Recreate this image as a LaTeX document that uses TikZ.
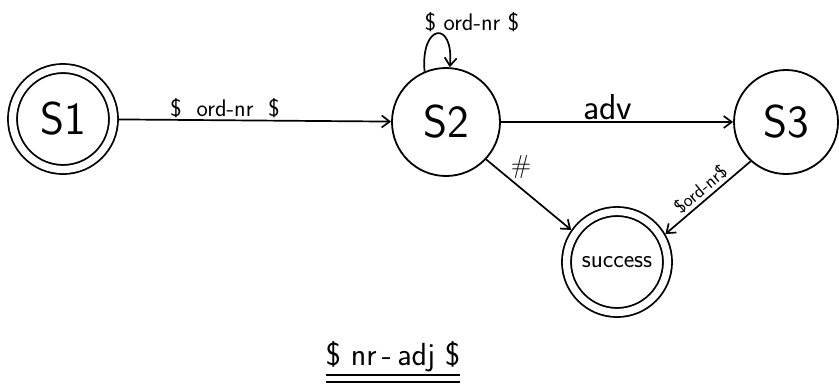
\documentclass[tikz,border=0pt]{standalone}
\usetikzlibrary{arrows.meta}
\begin{document}
\begin{tikzpicture}[
    x=1pt, y=1pt,
    >={Straight Barb[length=8pt,width=12pt]}, font=\sffamily,
    stbox/.style={draw, circle, line width=1.8pt, inner sep=0pt,
      font=\sffamily\fontsize{46}{48}\selectfont},
    accbox/.style={stbox, double, double distance=7.2pt, outer sep=5.4pt,
      minimum size=101pt},
    arr/.style={->, line width=1.7pt},
    lbl/.style={font=\sffamily\fontsize{24}{26}\selectfont, inner sep=2pt},
  ]
  \useasboundingbox (0,0) rectangle (839,384);

  % states
  \node[accbox] (s1) at (63,265) {S1};
  \node[stbox, minimum size=108pt] (s2) at (446,262) {S2};
  \node[stbox, minimum size=104pt] (s3) at (786,262) {S3};
  \node[accbox, font=\sffamily\fontsize{25}{27}\selectfont] (succ) at (617,122) {success};

  % transitions
  \draw[arr] (s1) -- node[lbl, pos=0.39, above] {\$\ \ ord-nr\ \ \$} (s2);
  \draw[arr] (s2) -- node[lbl, font=\sffamily\fontsize{36}{38}\selectfont, pos=0.46, above, inner sep=1pt] {adv} (s3);
  \draw[arr] (s2.113) to[out=95, in=85, distance=48pt]
    node[lbl, pos=0.45, anchor=south west, xshift=-12pt, inner sep=1pt] {\$\ ord-nr\ \$} (s2.86);
  \draw[arr] (s2.-43) -- node[lbl, font=\sffamily\fontsize{26}{28}\selectfont, pos=0.28, anchor=south west, inner sep=0pt] {\#} (succ.145);
  \draw[arr] (s3.228) -- node[lbl, font=\sffamily\fontsize{19}{21}\selectfont, pos=0.5, sloped, above, inner sep=3pt] {\$ord-nr\$} (succ.30);

  % title
  \node[font=\sffamily\fontsize{32}{34}\selectfont, inner sep=0pt, anchor=base] (title) at (393,19) {\$\ nr\,-\,adj\ \$};
  \draw[line width=1.8pt] ([yshift=-3pt]title.south west) -- ([yshift=-3pt]title.south east);
  \draw[line width=1.8pt] ([yshift=-10pt]title.south west) -- ([yshift=-10pt]title.south east);

\end{tikzpicture}
\end{document}
